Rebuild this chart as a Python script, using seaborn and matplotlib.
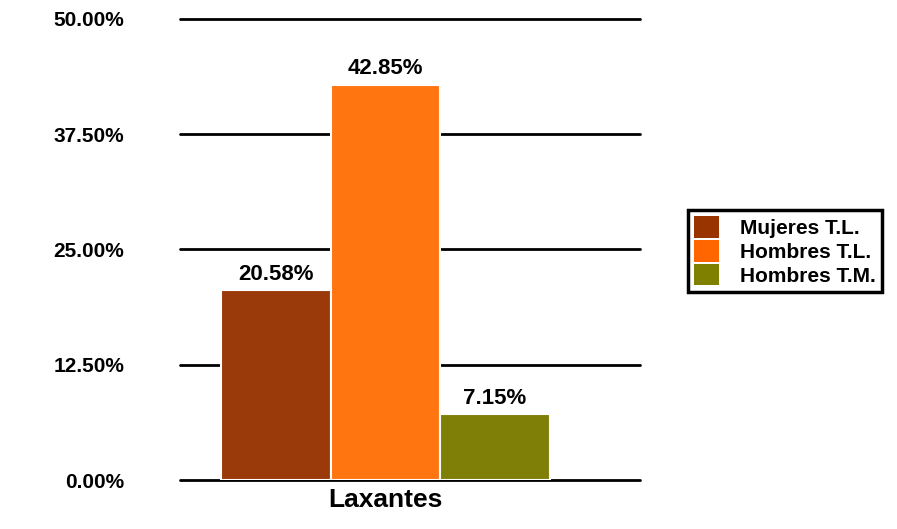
import matplotlib
matplotlib.use("Agg")
import matplotlib.pyplot as plt
import seaborn as sns
import pandas as pd
from matplotlib.patches import Patch

categories = ["Laxantes"]
series = ["Mujeres T.L.", "Hombres T.L.", "Hombres T.M."]
values = [20.58, 42.85, 7.15]
colors = ["#9A3A0B", "#FF7510", "#7F7F08"]
legend_colors = ["#993300", "#FF6600", "#808000"]
yticks = [0, 12.5, 25, 37.5, 50]
ytick_labels = ["0.00%", "12.50%", "25.00%", "37.50%", "50.00%"]

sns.set_theme(style="white")
plt.rcParams['font.family'] = ['Liberation Sans', 'DejaVu Sans']
plt.rcParams['text.color'] = 'black'
plt.rcParams['xtick.color'] = 'black'
plt.rcParams['ytick.color'] = 'black'

df = pd.DataFrame({"cat": categories * len(series), "serie": series, "val": values})

fig = plt.figure(figsize=(8.97, 5.29), dpi=100)
ax = fig.add_axes([180/897, 1 - 480/529, 460/897, (480 - 19)/529])

sns.barplot(data=df, x="cat", y="val", hue="serie", palette=colors, ax=ax,
            saturation=1, edgecolor="white", linewidth=1.5, legend=False)

for p, v in zip(ax.patches, values):
    ax.text(p.get_x() + p.get_width() / 2, v + 0.6, f"{v:.2f}%",
            ha="center", va="bottom", fontsize=16, fontweight="bold", color="black")

ax.set_ylim(0, 50)
ax.set_xlim(-0.5, 0.62)
ax.set_yticks(yticks)
ax.set_yticklabels(ytick_labels, fontsize=15, fontweight="bold", color="black")
ax.tick_params(axis="y", pad=40, length=0)
ax.yaxis.grid(True, color="black", linewidth=2)
for gl in ax.get_ygridlines():
    gl.set_clip_on(False)
ax.set_axisbelow(True)
for s in ax.spines.values():
    s.set_visible(False)
ax.set_xlabel("")
ax.set_ylabel("")
ax.set_xticks([0])
ax.set_xticklabels(categories, fontsize=19, fontweight="bold", color="black")
ax.tick_params(axis="x", pad=6, length=0)

handles = [Patch(facecolor=c, edgecolor="none") for c in legend_colors]
leg = fig.legend(handles, series, loc="center left", bbox_to_anchor=(688/897, 1 - 251/529),
                 frameon=True, fancybox=False, edgecolor="black", framealpha=1,
                 prop={"weight": "bold", "size": 15}, handlelength=1.2, handleheight=1.2,
                 labelspacing=0.1, borderpad=0.3, handletextpad=1.0, borderaxespad=0)
leg.get_frame().set_linewidth(2.5)
leg.get_frame().set_edgecolor("black")
for t in leg.get_texts():
    t.set_color("black")

fig.savefig("out.png", dpi=100)
